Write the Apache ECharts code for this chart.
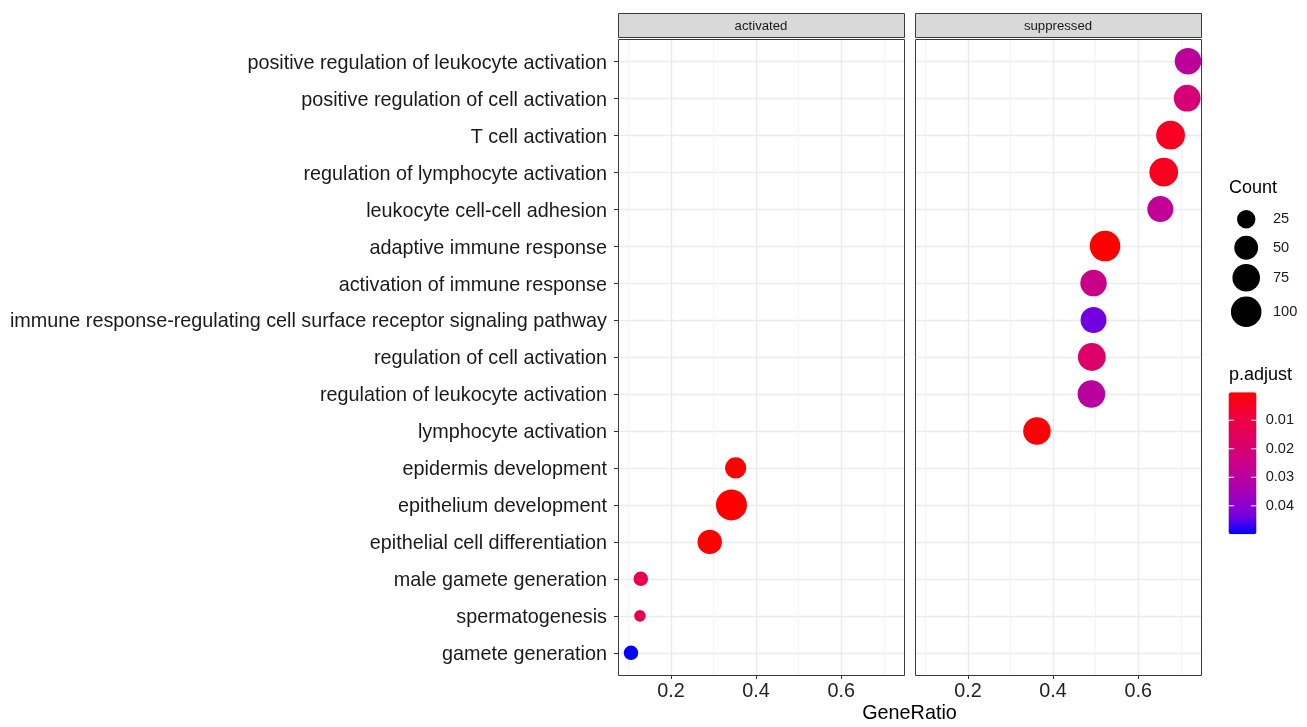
<!DOCTYPE html>
<html><head><meta charset="utf-8">
<script src="https://cdn.jsdelivr.net/npm/echarts@6/dist/echarts.min.js"></script>
<style>html,body{margin:0;padding:0;background:#fff}#c{width:1307px;height:727px}</style>
</head><body><div id="c"></div>
<script>
// ---------- data ----------
const categories = [
  'positive regulation of leukocyte activation',
  'positive regulation of cell activation',
  'T cell activation',
  'regulation of lymphocyte activation',
  'leukocyte cell-cell adhesion',
  'adaptive immune response',
  'activation of immune response',
  'immune response-regulating cell surface receptor signaling pathway',
  'regulation of cell activation',
  'regulation of leukocyte activation',
  'lymphocyte activation',
  'epidermis development',
  'epithelium development',
  'epithelial cell differentiation',
  'male gamete generation',
  'spermatogenesis',
  'gamete generation'
];
const panels = ['activated', 'suppressed'];

const activatedTerms = ['epidermis development','epithelium development','epithelial cell differentiation','male gamete generation','spermatogenesis','gamete generation'];
const activatedRatio = [0.352, 0.342, 0.291, 0.129, 0.127, 0.106];
const activatedCount = [36, 104, 53, 16, 14, 16];
const activatedPadj  = [0.0004, 0.0002, 0.0003, 0.0125, 0.0128, 0.05];

const suppressedTerms = ['positive regulation of leukocyte activation','positive regulation of cell activation','T cell activation','regulation of lymphocyte activation','leukocyte cell-cell adhesion','adaptive immune response','activation of immune response','immune response-regulating cell surface receptor signaling pathway','regulation of cell activation','regulation of leukocyte activation','lymphocyte activation'];
const suppressedRatio = [0.717, 0.715, 0.676, 0.660, 0.652, 0.522, 0.495, 0.495, 0.491, 0.490, 0.362];
const suppressedCount = [67, 69, 85, 84, 64, 100, 67, 63, 77, 75, 75];
const suppressedPadj  = [0.029, 0.0208, 0.0045, 0.0042, 0.028, 0.0003, 0.025, 0.0438, 0.018, 0.030, 0.0012];

const xTicks = [0.2, 0.4, 0.6];
const countBreaks = [25, 50, 75, 100];
const padjBreaks = [0.01, 0.02, 0.03, 0.04];

// ---------- styling / layout ----------
const FONT = '"Liberation Sans", Arial, sans-serif';
const gradient = ['#ff0000','#f40031','#e8004f','#da006c','#c90088','#b500a5','#9a00c3','#7300e0','#0000ff'];
const PANEL_TOP = 39, PANEL_H = 636;
const PANELS = [{left: 618, width: 286}, {left: 915, width: 286}];

const allRatio = activatedRatio.concat(suppressedRatio);
const allCount = activatedCount.concat(suppressedCount);
const allPadj = activatedPadj.concat(suppressedPadj);
const rMin = Math.min(...allRatio), rMax = Math.max(...allRatio);
const xMin = rMin - 0.05 * (rMax - rMin), xMax = rMax + 0.05 * (rMax - rMin);
const cMin = Math.min(...allCount), cMax = Math.max(...allCount);
const pMin = Math.min(...allPadj), pMax = Math.max(...allPadj);
const D_MIN = 11.6, D_MAX = 31;
function sizeOf(c) {
  const t = Math.max(0, (c - cMin) / (cMax - cMin));
  return D_MIN + (D_MAX - D_MIN) * Math.sqrt(t);
}
function rows(terms, ratio, count, padj) {
  return terms.map((t, i) => [ratio[i], categories.indexOf(t), count[i], padj[i], t]);
}
const panelData = [
  rows(activatedTerms, activatedRatio, activatedCount, activatedPadj),
  rows(suppressedTerms, suppressedRatio, suppressedCount, suppressedPadj)
];
const yIdx = categories.map((_, k) => k);

const grids = [], xAxes = [], yAxes = [], series = [], graphics = [];
PANELS.forEach((p, i) => {
  grids.push({left: p.left, top: PANEL_TOP, width: p.width, height: PANEL_H, show: false});
  // minor grid axis
  xAxes.push({
    type: 'value', gridIndex: i, min: xMin, max: xMax, minInterval: 0.1, maxInterval: 0.1,
    position: 'top', axisLine: {show: false}, axisTick: {show: false}, axisLabel: {show: false},
    splitLine: {show: true, lineStyle: {color: '#F4F4F4', width: 1}}
  });
  // major axis
  xAxes.push({
    type: 'value', gridIndex: i, min: xMin, max: xMax, minInterval: 0.2, maxInterval: 0.2,
    position: 'bottom', axisLine: {show: false},
    axisTick: {show: true, length: 4, customValues: xTicks, lineStyle: {color: '#333333', width: 1}},
    axisLabel: {show: true, customValues: xTicks, margin: 7, fontSize: 19.8, fontFamily: FONT, color: '#222',
      formatter: v => xTicks.some(t => Math.abs(t - v) < 1e-9) ? v.toFixed(1) : ''},
    splitLine: {show: true, lineStyle: {color: '#EBEBEB', width: 1.4}}
  });
  yAxes.push({
    type: 'value', gridIndex: i, min: -0.6, max: categories.length - 1 + 0.6, inverse: true,
    minInterval: 1, maxInterval: 1,
    axisLine: {show: false},
    axisTick: {show: i === 0, length: 4, customValues: yIdx, lineStyle: {color: '#333333', width: 1}},
    axisLabel: {show: i === 0, customValues: yIdx, margin: 11,
      formatter: v => Number.isInteger(v) && categories[v] ? '{t|' + categories[v] + '}' : '',
      rich: {t: {fontSize: 19.8, fontFamily: FONT, color: '#1a1a1a', padding: [4, 0, 0, 0]}}},
    splitLine: {show: true, lineStyle: {color: '#EBEBEB', width: 1.4}}
  });
  series.push({
    type: 'scatter', xAxisIndex: 2 * i + 1, yAxisIndex: i, data: panelData[i],
    symbolSize: v => sizeOf(v[2]), itemStyle: {opacity: 1}, clip: true, z: 3,
    emphasis: {disabled: true}
  });
  // strip
  graphics.push({type: 'rect', shape: {x: p.left + 0.5, y: 13.5, width: p.width, height: 24},
    style: {fill: '#D9D9D9', stroke: '#3a3a3a', lineWidth: 1}, z: 50});
  graphics.push({type: 'text', x: p.left + p.width / 2, y: 26,
    style: {text: panels[i], font: '13.2px ' + FONT, fill: '#1A1A1A', align: 'center', verticalAlign: 'middle'}, z: 51});
  // panel border
  graphics.push({type: 'rect', shape: {x: p.left + 0.5, y: PANEL_TOP + 0.5, width: p.width, height: PANEL_H},
    style: {fill: 'none', stroke: '#3a3a3a', lineWidth: 1}, z: 60});
});

// x title
graphics.push({type: 'text', x: (PANELS[0].left + PANELS[1].left + PANELS[1].width) / 2, y: 714,
  style: {text: 'GeneRatio', font: '19.8px ' + FONT, fill: '#000', align: 'center', verticalAlign: 'middle'}});

// Count legend
const LEG_X = 1229;
graphics.push({type: 'text', x: LEG_X, y: 188,
  style: {text: 'Count', font: '18px ' + FONT, fill: '#000', align: 'left', verticalAlign: 'middle'}});
const keyCenters = [219.3, 247.7, 277.7, 311.7];
countBreaks.forEach((b, k) => {
  graphics.push({type: 'circle', shape: {cx: 1246.2, cy: keyCenters[k], r: sizeOf(b) / 2}, style: {fill: '#000'}});
  graphics.push({type: 'text', x: 1273, y: keyCenters[k],
    style: {text: String(b), font: '14.6px ' + FONT, fill: '#1a1a1a', align: 'left', verticalAlign: 'middle'}});
});

// p.adjust legend
const CB = {left: 1228.5, top: 392.3, width: 28, height: 142};
graphics.push({type: 'text', x: LEG_X, y: 375,
  style: {text: 'p.adjust', font: '18px ' + FONT, fill: '#000', align: 'left', verticalAlign: 'middle'}});
padjBreaks.forEach(b => {
  const y = CB.top + (b - pMin) / (pMax - pMin) * CB.height;
  graphics.push({type: 'line', shape: {x1: CB.left, y1: y, x2: CB.left + 5.6, y2: y}, style: {stroke: '#fff', lineWidth: 1}, z: 80});
  graphics.push({type: 'line', shape: {x1: CB.left + CB.width - 5.6, y1: y, x2: CB.left + CB.width, y2: y}, style: {stroke: '#fff', lineWidth: 1}, z: 80});
  graphics.push({type: 'text', x: 1265.7, y: y,
    style: {text: b.toFixed(2), font: '14.6px ' + FONT, fill: '#1a1a1a', align: 'left', verticalAlign: 'middle'}});
});

const chart = echarts.init(document.getElementById('c'), null, {renderer: 'canvas'});
chart.setOption({
  animation: false,
  backgroundColor: '#fff',
  grid: grids,
  xAxis: xAxes,
  yAxis: yAxes,
  series: series,
  visualMap: [{
    type: 'continuous', dimension: 3, seriesIndex: [0, 1], min: pMin, max: pMax,
    inRange: {color: gradient}, inverse: true, calculable: false, hoverLink: false,
    left: CB.left, top: CB.top, itemWidth: CB.width, itemHeight: CB.height, padding: 0,
    text: null, showLabel: false, realtime: false
  }],
  graphic: graphics
});
</script>
</body></html>
